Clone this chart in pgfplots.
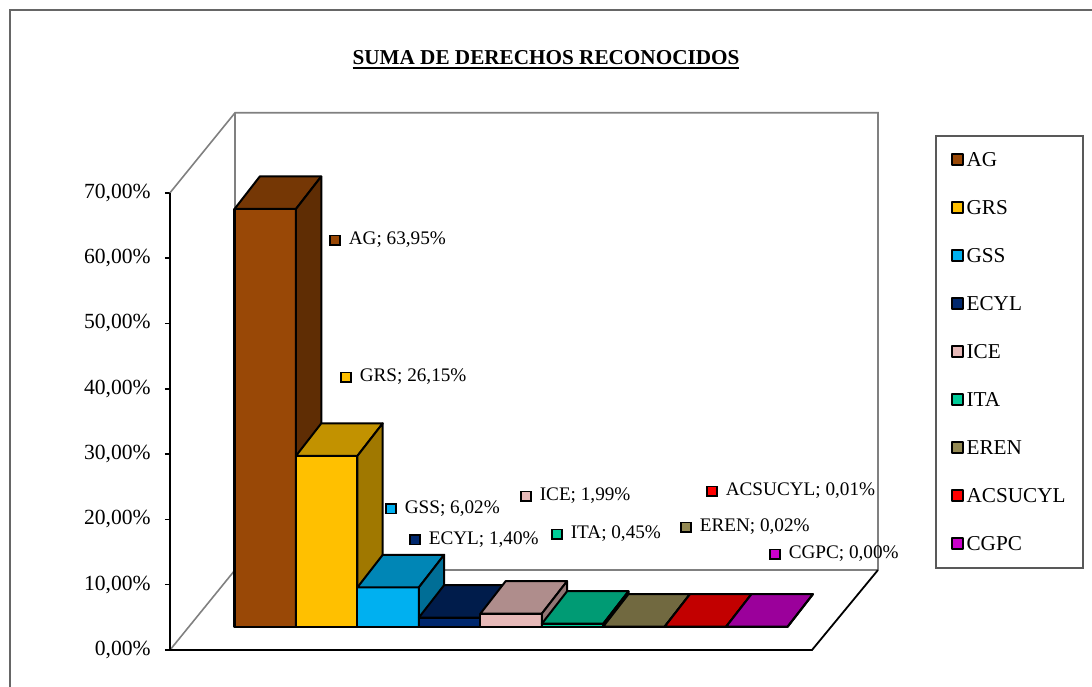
\documentclass[border=0pt]{standalone}
\usepackage{fontspec}
\setmainfont{Liberation Serif}
\usepackage{pgfplots}
\pgfplotsset{compat=1.18}

\definecolor{AGf}{RGB}{153,72,6}   \definecolor{AGt}{RGB}{117,55,5}   \definecolor{AGs}{RGB}{95,45,4}
\definecolor{GRSf}{RGB}{255,192,0} \definecolor{GRSt}{RGB}{194,146,0} \definecolor{GRSs}{RGB}{160,120,0}
\definecolor{GSSf}{RGB}{0,176,240} \definecolor{GSSt}{RGB}{0,134,182} \definecolor{GSSs}{RGB}{0,110,150}
\definecolor{ECYLf}{RGB}{0,40,110} \definecolor{ECYLt}{RGB}{0,28,75}  \definecolor{ECYLs}{RGB}{0,22,60}
\definecolor{ICEf}{RGB}{230,185,184} \definecolor{ICEt}{RGB}{175,141,140} \definecolor{ICEs}{RGB}{145,117,116}
\definecolor{ITAf}{RGB}{0,204,153} \definecolor{ITAt}{RGB}{0,155,116} \definecolor{ITAs}{RGB}{0,128,95}
\definecolor{ERENf}{RGB}{148,138,84} \definecolor{ERENt}{RGB}{113,105,64} \definecolor{ERENs}{RGB}{93,87,53}
\definecolor{ACSf}{RGB}{255,0,0}   \definecolor{ACSt}{RGB}{194,0,0}   \definecolor{ACSs}{RGB}{160,0,0}
\definecolor{CGPCf}{RGB}{204,0,204} \definecolor{CGPCt}{RGB}{155,0,155} \definecolor{CGPCs}{RGB}{128,0,128}

\newcommand\lblfont{\fontsize{9.6}{11}\selectfont}
\newcommand\tickfont{\fontsize{10.8}{12}\selectfont}
\newcommand\legfont{\fontsize{10.6}{12}\selectfont}
\newcommand\titlefont{\fontsize{10.6}{12}\selectfont\bfseries}
\newcommand\lmark[1]{{\setlength\fboxsep{0pt}\setlength\fboxrule{0.8pt}\raisebox{0.3pt}{\fcolorbox{black}{#1}{\rule{0pt}{4.1pt}\rule{4.1pt}{0pt}}}}}
\newcommand\ul[1]{\setbox0\hbox{#1}\leavevmode\rlap{\rule[-2.15pt]{\wd0}{1pt}}\box0}

% 3D bar: #1 index, #2 value (%), #3 front, #4 top, #5 side colour
\newcommand\tdbar[5]{%
 \pgfmathsetmacro\xa{64.5+61.46*#1}%
 \pgfmathsetmacro\xb{\xa+61.46}%
 \pgfmathsetmacro\xc{\xa+25.3}%
 \pgfmathsetmacro\xd{\xb+25.3}%
 \pgfmathsetmacro\yt{3.57+#2}%
 \pgfmathsetmacro\ytt{\yt+4.98}%
 \pgfmathsetmacro\ybb{3.57+4.98}%
 \edef\doit{%
  \noexpand\addplot[fill=#3,draw=black,line width=1pt,line join=round] coordinates {(\xa,3.57) (\xb,3.57) (\xb,\yt) (\xa,\yt)} --cycle;
  \noexpand\addplot[forget plot,fill=#4,draw=black,line width=1pt,line join=round] coordinates {(\xa,\yt) (\xb,\yt) (\xd,\ytt) (\xc,\ytt)} --cycle;
  \noexpand\addplot[forget plot,fill=#5,draw=black,line width=1pt,line join=round] coordinates {(\xb,3.57) (\xd,\ybb) (\xd,\ytt) (\xb,\yt)} --cycle;
 }\doit}

\begin{document}
\begin{tikzpicture}
\begin{axis}[
  name=ax, scale only axis, width=354pt, height=268.6pt,
  xmin=0, xmax=708, ymin=0, ymax=82.25, clip=false,
  axis line style={draw=none},
  xtick=\empty, ytick={0,10,...,70}, ytick pos=left,
  hide obscured y ticks=false,
  tick align=outside, major tick length=2.5pt,
  tick style={black, line width=0.8pt},
  /pgf/number format/assume math mode=true,
  yticklabel={\pgfmathprintnumber[fixed,fixed zerofill,precision=2,use comma]{\tick}\%},
  yticklabel style={font=\tickfont, inner sep=0pt, xshift=-7pt},
  legend entries={AG,GRS,GSS,ECYL,ICE,ITA,EREN,ACSUCYL,CGPC},
  legend cell align=left,
  legend image code/.code={\draw[#1,draw=black,line width=1pt] (0.5pt,0.5pt) rectangle (5.9pt,5.9pt);},
  legend style={draw=none, fill=none, at={(axis cs:781,76.3)}, anchor=north west,
    inner sep=0pt, row sep=15.7pt, column sep=1.2pt, font=\legfont,
    nodes={inner sep=0pt, text height=7pt, text depth=1.3pt, anchor=base west}},
]
% walls and floor
\addplot[forget plot, black!50, line width=0.8pt] coordinates {(0,70) (65,82.25) (708,82.25) (708,12.25)};
\addplot[forget plot, black!50, line width=0.8pt] coordinates {(65,82.25) (65,12.25) (708,12.25)};
\addplot[forget plot, black!50, line width=0.8pt] coordinates {(0,0) (65,12.25)};
\addplot[forget plot, black, line width=0.9pt] coordinates {(0,0) (642,0) (708,12.25)};
\addplot[forget plot, black, line width=0.9pt] coordinates {(0,0) (0,70)};
% bars
\tdbar{0}{63.95}{AGf}{AGt}{AGs}
\tdbar{1}{26.15}{GRSf}{GRSt}{GRSs}
\tdbar{2}{6.02}{GSSf}{GSSt}{GSSs}
\tdbar{3}{1.40}{ECYLf}{ECYLt}{ECYLs}
\tdbar{4}{1.99}{ICEf}{ICEt}{ICEs}
\tdbar{5}{0.45}{ITAf}{ITAt}{ITAs}
\tdbar{6}{0.02}{ERENf}{ERENt}{ERENs}
\tdbar{7}{0.01}{ACSf}{ACSt}{ACSs}
\tdbar{8}{0.00}{CGPCf}{CGPCt}{CGPCs}
% outer frame, legend box
\draw[black!60, line width=1pt] (axis cs:-160,-12) -- (axis cs:-160,98.01) -- (axis cs:960,98.01);
\draw[black!65, line width=1pt] (axis cs:766,78.71) rectangle (axis cs:913,12.56);
% title
\node[anchor=base, font=\titlefont, inner sep=0pt] at (axis cs:376,89.59) {\ul{SUMA DE DERECHOS RECONOCIDOS}};
% data labels
\begin{scope}[every node/.style={anchor=base west, inner sep=0pt, font=\lblfont}]
\node at (axis cs:159,62.02) {\lmark{AGf}\hspace{4pt}AG; 63,95\%};
\node at (axis cs:170,41.04) {\lmark{GRSf}\hspace{4pt}GRS; 26,15\%};
\node at (axis cs:215,20.90) {\lmark{GSSf}\hspace{4pt}GSS; 6,02\%};
\node at (axis cs:239,16.16) {\lmark{ECYLf}\hspace{4pt}ECYL; 1,40\%};
\node at (axis cs:350,22.82) {\lmark{ICEf}\hspace{4pt}ICE; 1,99\%};
\node at (axis cs:381,17.00) {\lmark{ITAf}\hspace{4pt}ITA; 0,45\%};
\node at (axis cs:510,18.07) {\lmark{ERENf}\hspace{4pt}EREN; 0,02\%};
\node at (axis cs:536,23.58) {\lmark{ACSf}\hspace{4pt}ACSUCYL; 0,01\%};
\node at (axis cs:599,13.94) {\lmark{CGPCf}\hspace{4pt}CGPC; 0,00\%};
\end{scope}
\end{axis}
\pgfresetboundingbox
\path ([shift={(-85pt,-18pt)}]ax.south west) rectangle ([shift={(461pt,325pt)}]ax.south west);
\end{tikzpicture}
\end{document}
